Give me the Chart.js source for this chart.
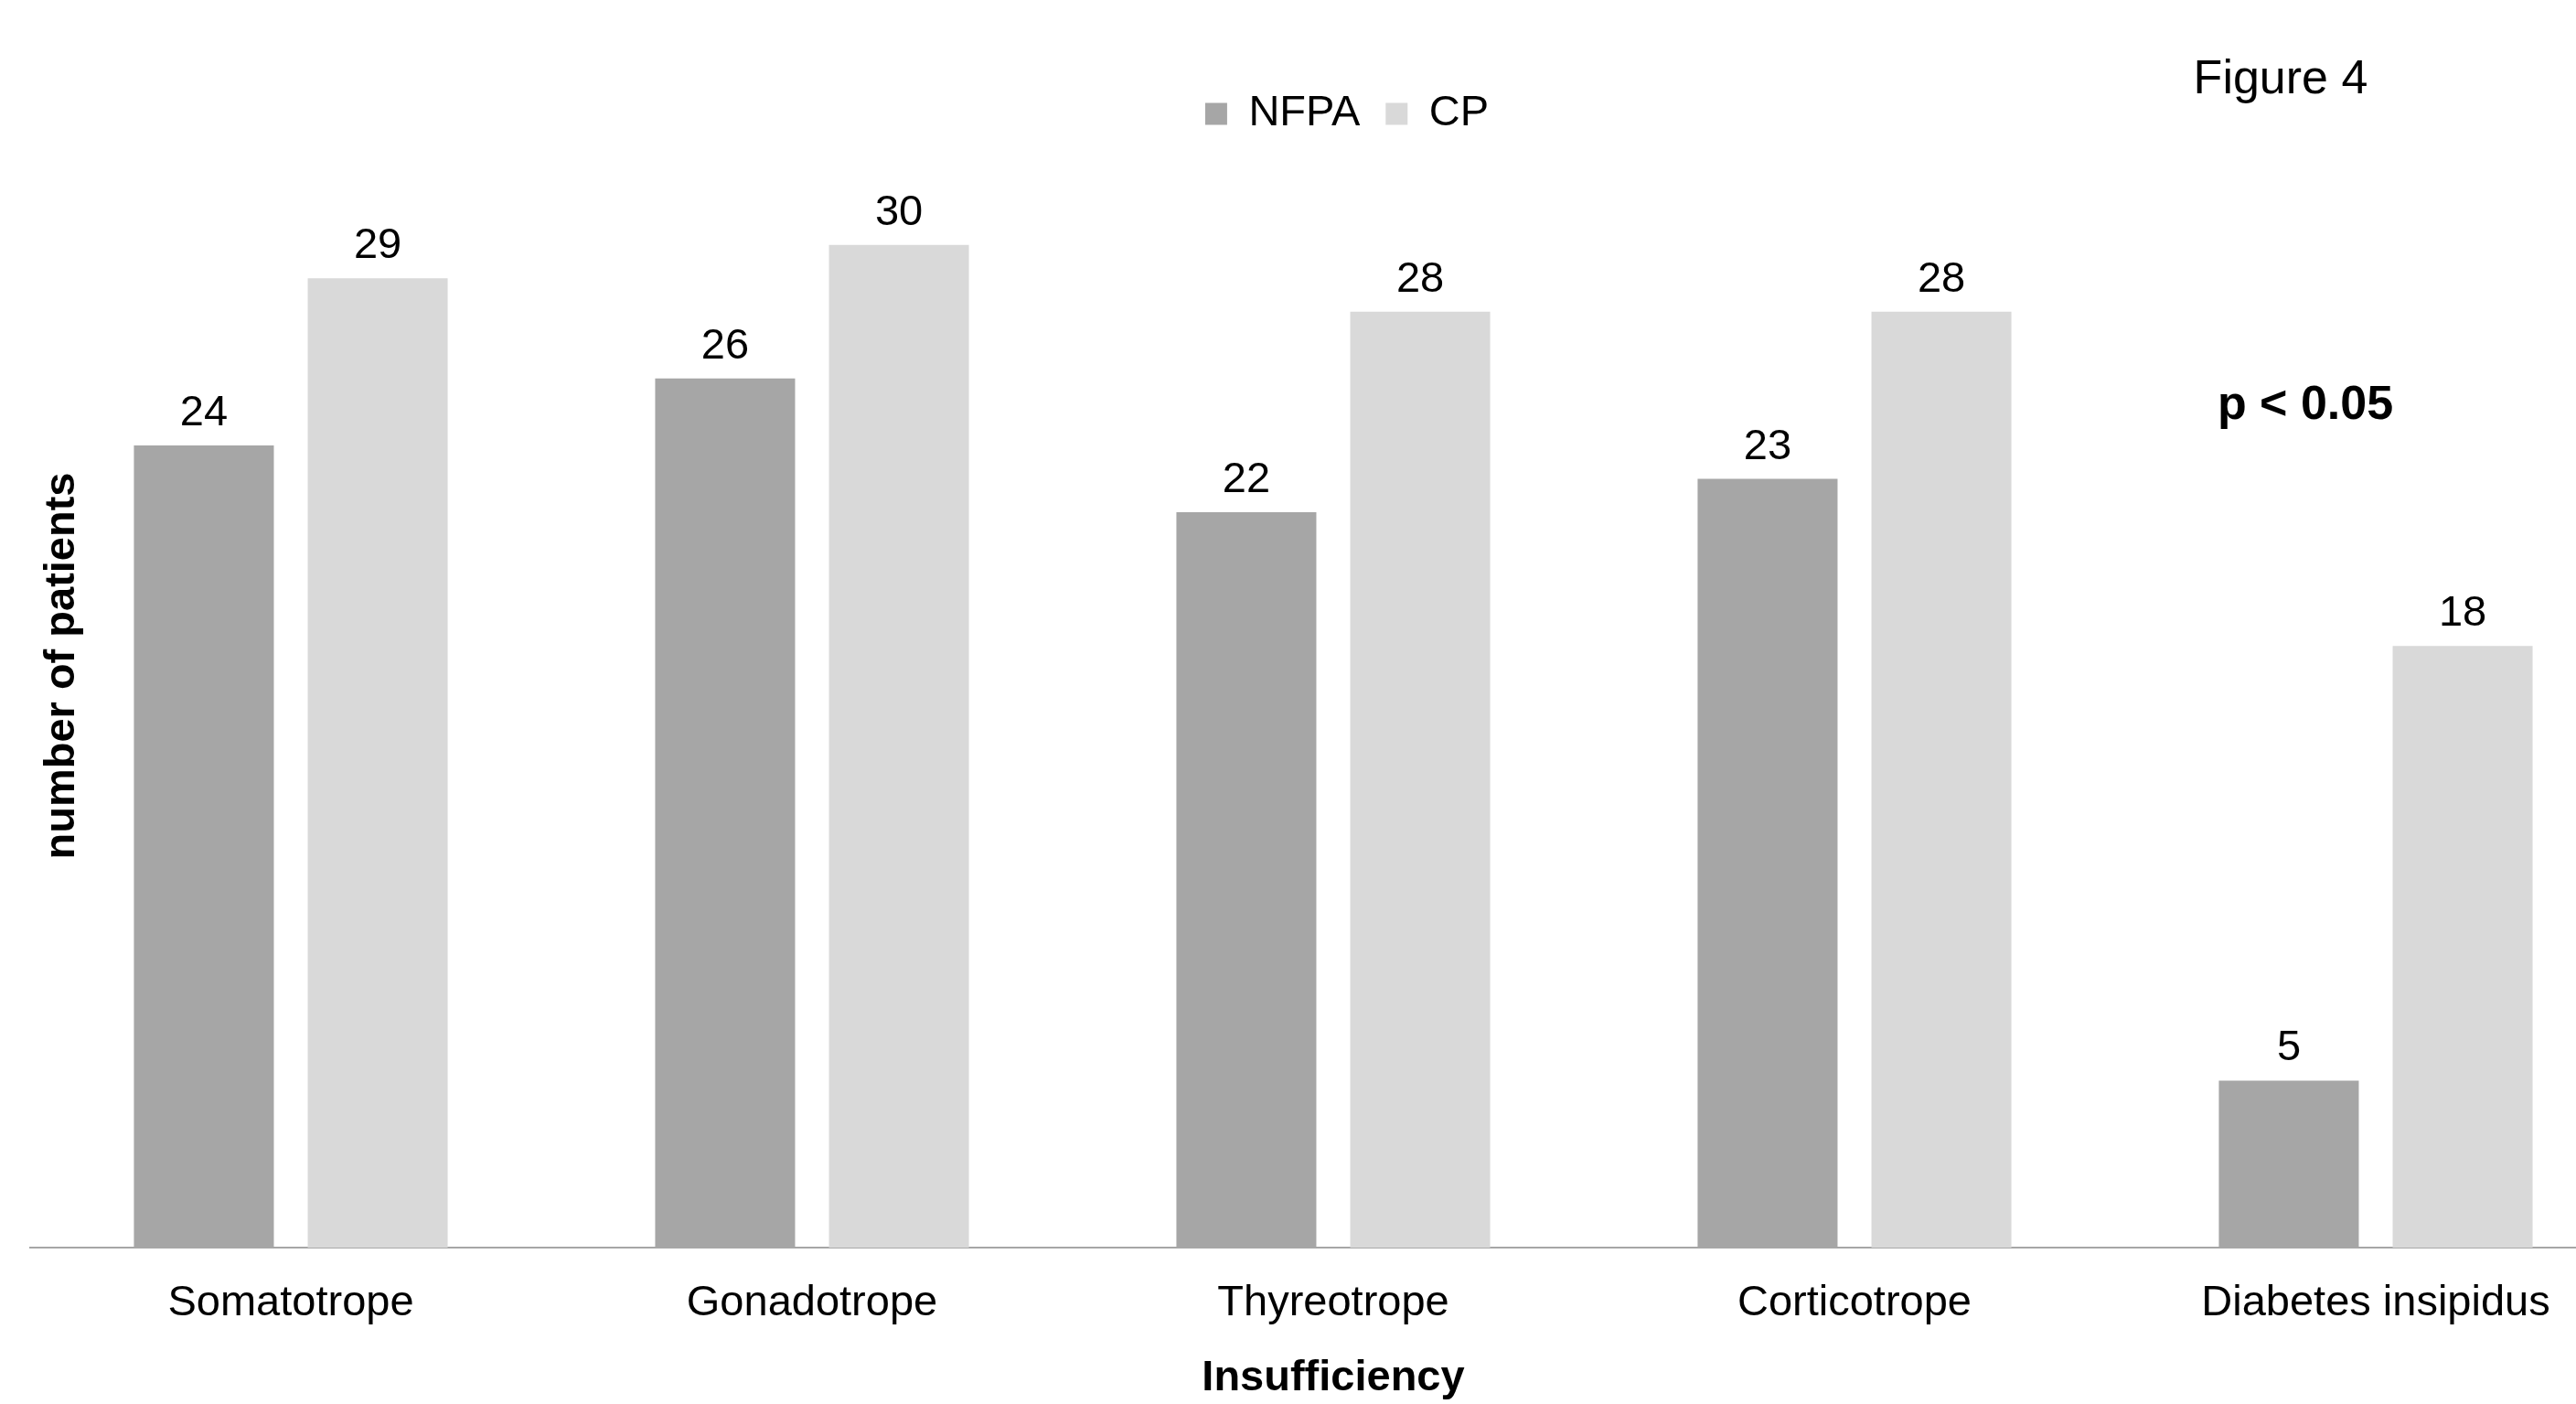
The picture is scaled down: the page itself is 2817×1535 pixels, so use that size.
<!DOCTYPE html>
<html>
<head>
<meta charset="utf-8">
<script src="https://cdn.jsdelivr.net/npm/chart.js@4/dist/chart.umd.min.js"></script>
<style>
  html, body { margin: 0; padding: 0; background: #fff; overflow: hidden; }
  /* l'original est rogné à droite : la dernière catégorie dépasse du cadre */
  #conteneur { width: 2883px; height: 1535px; position: relative; }
</style>
</head>
<body>
<div id="conteneur"><canvas id="insuffisances"></canvas></div>
<script>
const CATEGORIES = ['Somatotrope', 'Gonadotrope', 'Thyreotrope', 'Corticotrope', 'Diabetes insipidus'];
const VALEURS_NFPA = [24, 26, 22, 23, 5];
const VALEURS_CP = [29, 30, 28, 28, 18];

const PALETTE = {
  NOIR: '#000',
  GRIS_FONCE: '#a6a6a6',
  GRIS_CLAIR: '#d9d9d9',
  AXE: '#a6a6a6',
};

const POLICE = '"Liberation Sans", Arial, sans-serif';
const DECALAGE_LEGENDE = 15;

const etiquettesValeurs = {
  id: 'etiquettesValeurs',
  afterDatasetsDraw: (chart) => {
    const { ctx } = chart;
    ctx.save();
    ctx.font = `47px ${POLICE}`;
    ctx.fillStyle = PALETTE.NOIR;
    ctx.textAlign = 'center';
    ctx.textBaseline = 'alphabetic';
    chart.data.datasets.forEach((dataset, i) => {
      chart.getDatasetMeta(i).data.forEach((barre, j) => {
        ctx.fillText(dataset.data[j], barre.x, barre.y - 22);
      });
    });
    ctx.restore();
  },
};

const annotations = {
  id: 'annotations',
  afterLayout: (chart) => {
    // la légende est un peu décalée vers la droite dans l'original
    chart.legend.left += DECALAGE_LEGENDE;
    chart.legend.right += DECALAGE_LEGENDE;
  },
  afterDraw: (chart) => {
    const { ctx } = chart;
    ctx.save();
    ctx.fillStyle = PALETTE.NOIR;
    ctx.textAlign = 'center';
    ctx.textBaseline = 'alphabetic';

    ctx.font = `52px ${POLICE}`;
    ctx.fillText('Figure 4', 2494, 102);

    ctx.font = `bold 52px ${POLICE}`;
    ctx.fillText('p < 0.05', 2521, 458);

    ctx.translate(68, 728);
    ctx.rotate(-Math.PI / 2);
    ctx.font = `bold 47px ${POLICE}`;
    ctx.textBaseline = 'middle';
    ctx.fillText('number of patients', 0, 0);
    ctx.restore();
  },
};

/* eslint-disable no-new */
new Chart(
  document.getElementById('insuffisances'),
  {
    type: 'bar',
    plugins: [etiquettesValeurs, annotations],
    data: {
      labels: CATEGORIES,
      datasets: [
        {
          label: 'NFPA',
          data: VALEURS_NFPA,
          backgroundColor: PALETTE.GRIS_FONCE,
        },
        {
          label: 'CP',
          data: VALEURS_CP,
          backgroundColor: PALETTE.GRIS_CLAIR,
        },
      ],
    },
    options: {
      animation: false,
      responsive: true,
      maintainAspectRatio: false,
      events: [],
      categoryPercentage: 0.667,
      barPercentage: 0.805,
      layout: { padding: { left: 33, top: 73, right: 0, bottom: 0 } },
      plugins: {
        tooltip: { enabled: false },
        legend: {
          position: 'top',
          labels: {
            boxWidth: 24,
            boxHeight: 24,
            padding: 28,
            color: PALETTE.NOIR,
            font: { family: POLICE, size: 47 },
          },
        },
      },
      scales: {
        x: {
          grid: { display: false },
          border: { display: true, color: PALETTE.AXE, width: 2 },
          ticks: {
            color: PALETTE.NOIR,
            font: { family: POLICE, size: 47 },
            padding: 25,
            maxRotation: 0,
            autoSkip: false,
          },
          title: {
            display: true,
            text: 'Insufficiency',
            color: PALETTE.NOIR,
            font: { family: POLICE, size: 47, weight: 'bold' },
            padding: { top: 0, bottom: 0 },
          },
        },
        y: {
          display: false,
          min: 0,
          max: 33,
        },
      },
    },
  }
);
/* eslint-enable no-new */
</script>
</body>
</html>
